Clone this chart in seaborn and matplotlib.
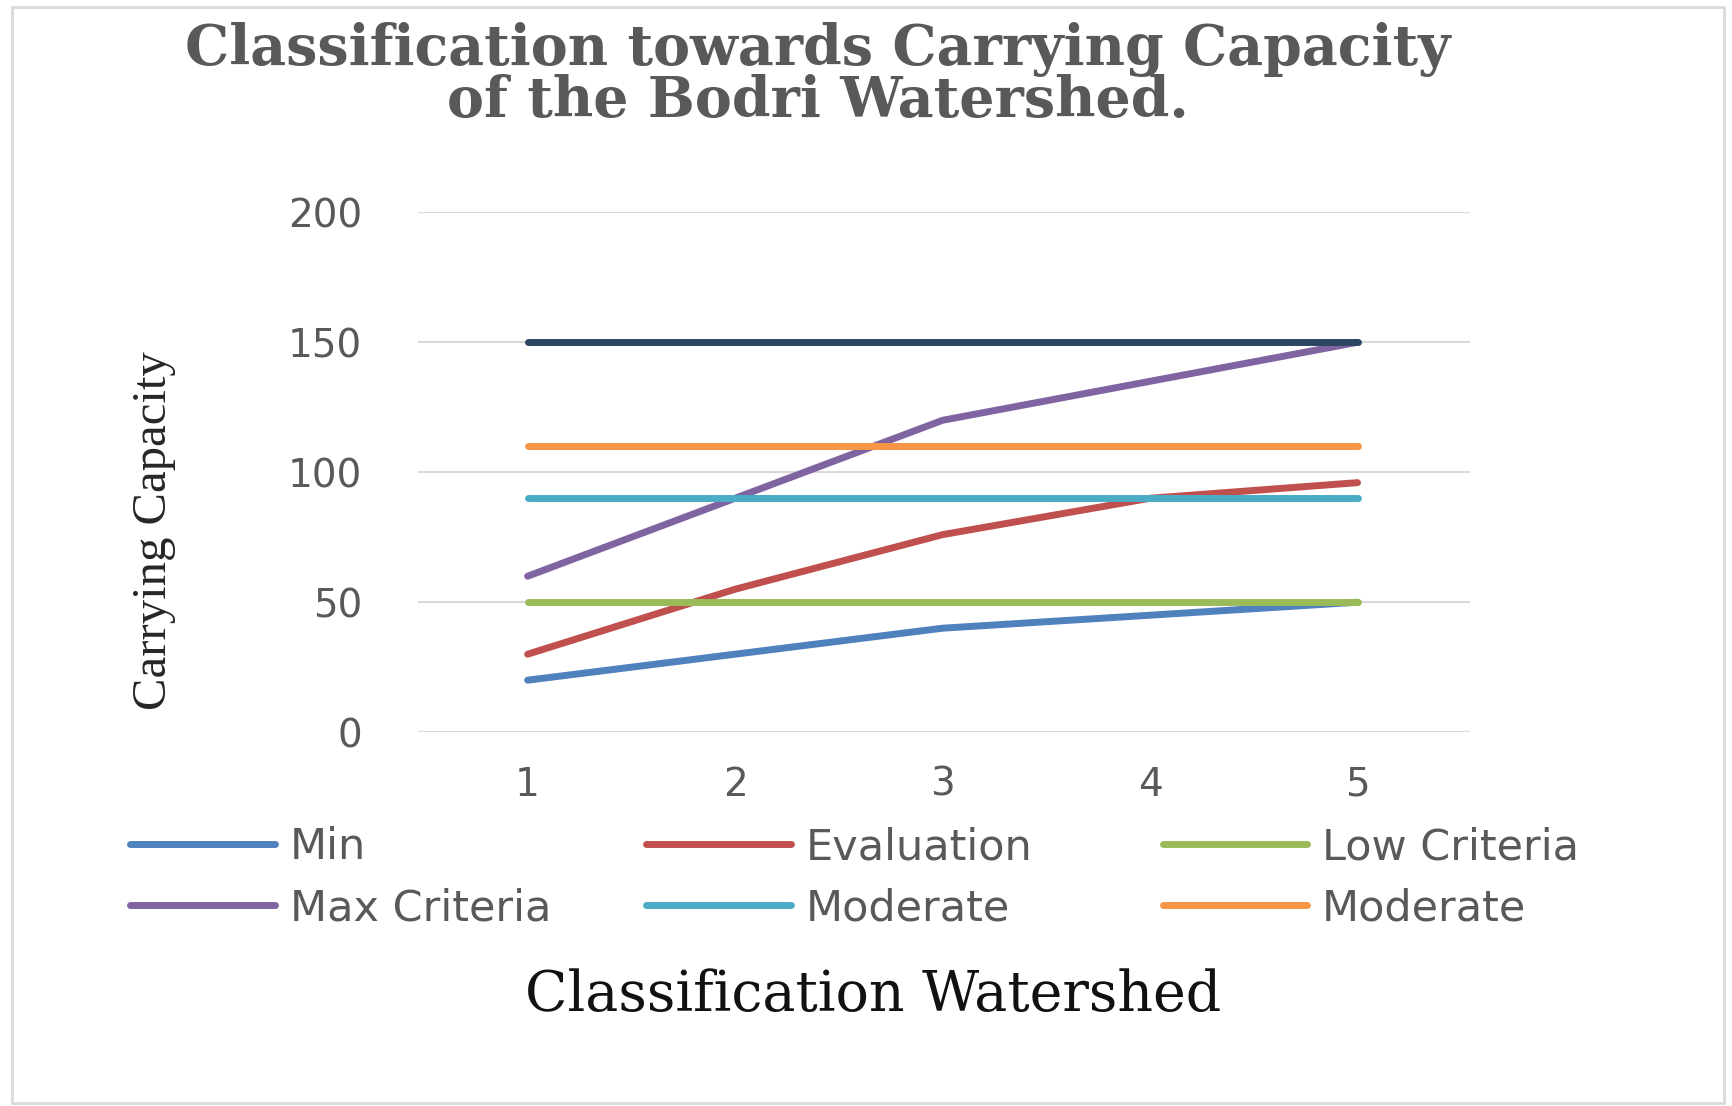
import pandas as pd
import matplotlib.pyplot as plt
import seaborn as sns
from matplotlib.patches import Rectangle

# Data
watershed_class = [1, 2, 3, 4, 5]
min_vals = [20, 30, 40, 45, 50]
evaluation_vals = [30, 55, 76, 90, 96]
low_criteria_vals = [50, 50, 50, 50, 50]
max_criteria_vals = [60, 90, 120, 135, 150]
moderate_low_vals = [90, 90, 90, 90, 90]
moderate_high_vals = [110, 110, 110, 110, 110]
high_vals = [150, 150, 150, 150, 150]

series_names = ['Min', 'Evaluation', 'Low Criteria', 'Max Criteria', 'Moderate', 'Moderate', 'High']
series_values = [min_vals, evaluation_vals, low_criteria_vals, max_criteria_vals,
                 moderate_low_vals, moderate_high_vals, high_vals]
series_colors = ['#4F81BD', '#C0504D', '#9BBB59', '#8064A2', '#4BACC6', '#F79646', '#2C4563']

sns.set_theme(style='white')
plt.rcParams['font.family'] = ['DejaVu Sans']

fig = plt.figure(figsize=(17.33, 11.06), dpi=100)
ax = fig.add_axes([0.241, 0.338, 0.607, 0.470])

handles = []
for name, vals, col in zip(series_names, series_values, series_colors):
    df = pd.DataFrame({'x': watershed_class, 'y': vals})
    sns.lineplot(data=df, x='x', y='y', color=col, linewidth=5, ax=ax,
                 legend=False, solid_capstyle='round')
    handles.append(ax.lines[-1])

ax.set_xlim(0.47, 5.54)
ax.set_ylim(0, 200)
ax.set_yticks([0, 50, 100, 150, 200])
ax.set_xticks(watershed_class)
ax.grid(axis='y', color='#D9D9D9', linewidth=1.5)
ax.set_axisbelow(True)
for s in ax.spines.values():
    s.set_visible(False)
ax.tick_params(axis='y', length=0, pad=40, labelsize=28, labelcolor='#595959')
ax.tick_params(axis='x', length=0, pad=24, labelsize=28, labelcolor='#595959')
ax.set_xlabel('')
ax.set_ylabel('')

# titles and axis titles
fig.text(0.472, 0.955, 'Classification towards Carrying Capacity', ha='center', va='center',
         fontsize=40, fontweight='bold', color='#595959', family='DejaVu Serif')
fig.text(0.472, 0.908, 'of the Bodri Watershed.', ha='center', va='center',
         fontsize=40, fontweight='bold', color='#595959', family='DejaVu Serif')
fig.text(0.089, 0.52, 'Carrying Capacity', rotation=90, ha='center', va='center',
         fontsize=35, color='#262626', family='Liberation Serif')
fig.text(0.504, 0.100, 'Classification Watershed', ha='center', va='center',
         fontsize=40, color='#111111', family='DejaVu Serif')

# legend, three columns built separately
col_x = [0.0753, 0.373, 0.671]
pairs = [(0, 3), (1, 4), (2, 5)]
for cx, (a, b) in zip(col_x, pairs):
    leg = fig.legend([handles[a], handles[b]], [series_names[a], series_names[b]],
                     loc='upper left', bbox_to_anchor=(cx, 0.253), frameon=False,
                     fontsize=31, handlelength=3.35, handletextpad=0.35,
                     labelspacing=0.44, borderpad=0, borderaxespad=0)
    for t in leg.get_texts():
        t.set_color('#595959')

# light frame around the whole picture
fig.patches.append(Rectangle((0.007, 0.003), 0.988, 0.991, transform=fig.transFigure,
                             fill=False, edgecolor='#D9D9D9', linewidth=2))

fig.savefig('out.png', dpi=100)
